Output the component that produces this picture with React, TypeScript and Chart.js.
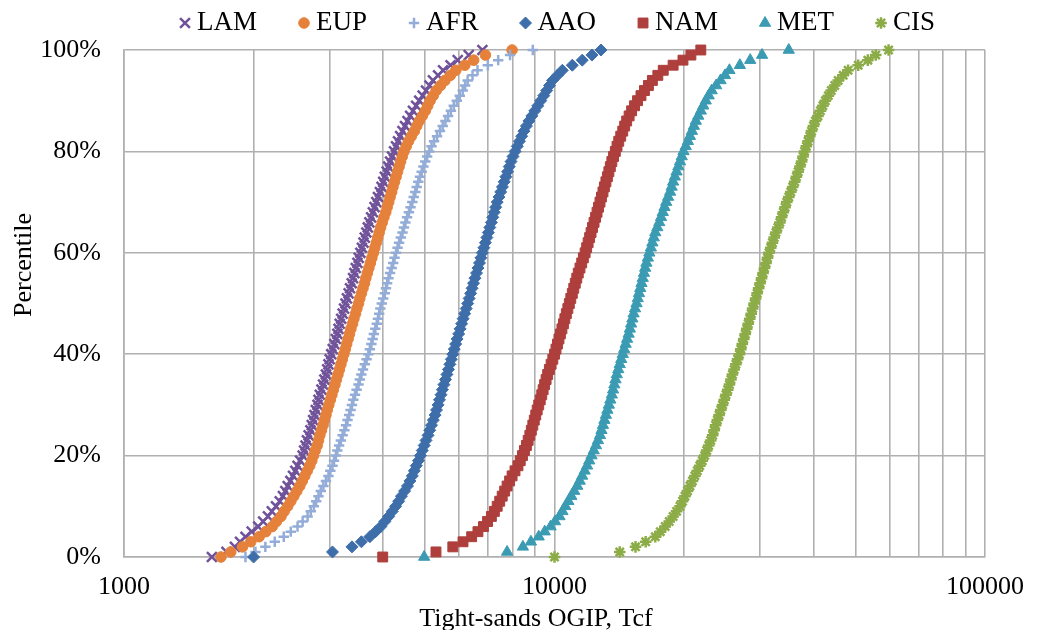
import React, { useEffect, useRef } from "react";
import { Chart, registerables } from "chart.js";
import { drawPoint } from "chart.js/helpers";

Chart.register(...registerables);

// Percentile levels (%) shared by all series
const PCT = [
  0, 1, 2, 3, 4, 5, 6, 7, 8, 9,
  10, 11, 12, 13, 14, 15, 16, 17, 18, 19,
  20, 21, 22, 23, 24, 25, 26, 27, 28, 29,
  30, 31, 32, 33, 34, 35, 36, 37, 38, 39,
  40, 41, 42, 43, 44, 45, 46, 47, 48, 49,
  50, 51, 52, 53, 54, 55, 56, 57, 58, 59,
  60, 61, 62, 63, 64, 65, 66, 67, 68, 69,
  70, 71, 72, 73, 74, 75, 76, 77, 78, 79,
  80, 81, 82, 83, 84, 85, 86, 87, 88, 89,
  90, 91, 92, 93, 94, 95, 96, 97, 98, 99, 100,
];

// Tight-sands OGIP (Tcf) at each percentile
const LAM = [
  1600, 1730, 1810, 1860, 1915, 1980, 2050, 2105, 2160, 2205,
  2255, 2300, 2340, 2370, 2400, 2435, 2470, 2500, 2530, 2565,
  2600, 2620, 2640, 2660, 2685, 2710, 2730, 2750, 2770, 2790,
  2815, 2830, 2850, 2875, 2900, 2920, 2945, 2965, 2985, 3005,
  3030, 3055, 3080, 3105, 3130, 3150, 3170, 3195, 3220, 3245,
  3270, 3295, 3325, 3350, 3380, 3405, 3430, 3455, 3485, 3510,
  3540, 3570, 3600, 3625, 3655, 3685, 3715, 3750, 3785, 3820,
  3855, 3890, 3930, 3965, 4000, 4035, 4075, 4110, 4150, 4195,
  4240, 4285, 4330, 4380, 4435, 4495, 4555, 4620, 4690, 4770,
  4850, 4940, 5030, 5125, 5220, 5365, 5510, 5735, 5960, 6320, 6800,
];
const EUP = [
  1680, 1770, 1885, 1970, 2060, 2135, 2210, 2260, 2315, 2355,
  2400, 2440, 2480, 2520, 2560, 2595, 2630, 2665, 2700, 2730,
  2755, 2780, 2810, 2830, 2850, 2875, 2900, 2920, 2945, 2965,
  2990, 3015, 3040, 3065, 3090, 3115, 3140, 3165, 3190, 3215,
  3240, 3265, 3290, 3315, 3340, 3365, 3395, 3420, 3450, 3475,
  3505, 3530, 3560, 3590, 3620, 3645, 3675, 3705, 3735, 3765,
  3795, 3825, 3855, 3885, 3915, 3945, 3980, 4015, 4055, 4085,
  4120, 4150, 4185, 4215, 4250, 4285, 4320, 4355, 4390, 4430,
  4470, 4525, 4580, 4650, 4725, 4785, 4850, 4930, 5010, 5075,
  5140, 5225, 5310, 5435, 5565, 5730, 5900, 6190, 6490, 6910, 7970,
];
const AFR = [
  1915, 2020, 2130, 2240, 2350, 2440, 2530, 2600, 2670, 2715,
  2760, 2795, 2830, 2865, 2905, 2945, 2985, 3015, 3050, 3075,
  3105, 3130, 3160, 3190, 3220, 3250, 3280, 3305, 3335, 3360,
  3385, 3410, 3440, 3470, 3505, 3530, 3560, 3590, 3625, 3660,
  3695, 3725, 3755, 3780, 3805, 3835, 3865, 3890, 3915, 3940,
  3970, 4000, 4035, 4060, 4085, 4115, 4150, 4185, 4220, 4250,
  4285, 4320, 4355, 4395, 4435, 4470, 4505, 4545, 4590, 4630,
  4675, 4710, 4750, 4785, 4825, 4870, 4915, 4960, 5010, 5060,
  5115, 5180, 5250, 5335, 5420, 5500, 5580, 5660, 5745, 5835,
  5930, 6025, 6120, 6200, 6285, 6450, 6625, 7000, 7400, 7885, 8905,
];
const AAO = [
  2000, 3050, 3385, 3560, 3725, 3840, 3950, 4035, 4120, 4200,
  4275, 4345, 4410, 4485, 4555, 4615, 4675, 4725, 4775, 4830,
  4880, 4930, 4980, 5030, 5085, 5130, 5180, 5230, 5280, 5320,
  5365, 5405, 5450, 5490, 5535, 5580, 5625, 5670, 5715, 5760,
  5805, 5850, 5895, 5940, 5990, 6035, 6085, 6135, 6185, 6235,
  6285, 6335, 6385, 6435, 6485, 6535, 6590, 6640, 6695, 6745,
  6800, 6855, 6910, 6965, 7020, 7075, 7135, 7190, 7245, 7300,
  7360, 7430, 7500, 7570, 7640, 7710, 7780, 7850, 7925, 8010,
  8100, 8195, 8290, 8390, 8490, 8605, 8720, 8860, 9000, 9145,
  9290, 9440, 9590, 9740, 9895, 10160, 10430, 11000, 11600, 12220, 12820,
];
const NAM = [
  3990, 5305, 5805, 6130, 6420, 6640, 6840, 6990, 7135, 7250,
  7360, 7460, 7560, 7660, 7760, 7865, 7970, 8095, 8225, 8325,
  8425, 8515, 8605, 8685, 8765, 8835, 8905, 8975, 9045, 9115,
  9190, 9265, 9340, 9410, 9485, 9560, 9640, 9730, 9820, 9910,
  10000, 10080, 10160, 10240, 10320, 10405, 10490, 10570, 10655, 10740,
  10825, 10910, 11000, 11085, 11175, 11265, 11355, 11460, 11565, 11670,
  11780, 11875, 11970, 12065, 12160, 12255, 12355, 12455, 12555, 12655,
  12755, 12855, 12960, 13060, 13165, 13270, 13375, 13480, 13590, 13715,
  13845, 13970, 14100, 14250, 14405, 14555, 14710, 14905, 15105, 15345,
  15590, 15880, 16180, 16525, 16880, 17380, 17890, 18860, 19880, 20740, 21870,
];
const MET = [
  4980, 7760, 8445, 8815, 9190, 9490, 9795, 10030, 10270, 10435,
  10600, 10770, 10940, 11115, 11295, 11445, 11595, 11750, 11905, 12045,
  12190, 12335, 12485, 12620, 12755, 12855, 12960, 13060, 13165, 13270,
  13375, 13480, 13590, 13680, 13770, 13860, 13955, 14065, 14175, 14290,
  14405, 14515, 14630, 14745, 14865, 14965, 15065, 15165, 15265, 15385,
  15510, 15610, 15715, 15820, 15925, 16030, 16135, 16240, 16350, 16480,
  16610, 16745, 16880, 17010, 17145, 17330, 17515, 17680, 17845, 18010,
  18175, 18365, 18560, 18710, 18860, 19035, 19210, 19390, 19570, 19750,
  19935, 20175, 20415, 20635, 20855, 21075, 21295, 21580, 21870, 22160,
  22455, 22815, 23180, 23740, 24305, 24895, 25490, 26950, 28485, 30350, 35010,
];
const CIS = [
  10000, 14175, 15425, 16285, 17145, 17610, 18080, 18470, 18860, 19215,
  19570, 19830, 20095, 20365, 20635, 20910, 21185, 21465, 21750, 22040,
  22335, 22570, 22810, 23055, 23300, 23485, 23675, 23895, 24115, 24340,
  24565, 24795, 25025, 25255, 25490, 25695, 25900, 26140, 26385, 26630,
  26875, 27090, 27305, 27520, 27740, 27960, 28185, 28410, 28635, 28860,
  29090, 29325, 29560, 29795, 30030, 30270, 30510, 30755, 31000, 31245,
  31495, 31790, 32085, 32385, 32685, 33030, 33380, 33690, 34005, 34320,
  34640, 35010, 35380, 35755, 36135, 36470, 36810, 37155, 37500, 37800,
  38100, 38455, 38810, 39170, 39535, 39955, 40380, 40920, 41465, 42015,
  42570, 43255, 43945, 44770, 45600, 46840, 48075, 50755, 53435, 55745, 59710,
];

const SERIES_NAMES = ["LAM", "EUP", "AFR", "AAO", "NAM", "MET", "CIS"];
const SERIES_VALUES = [LAM, EUP, AFR, AAO, NAM, MET, CIS];

// x-axis gridlines and labelled ticks
const X_GRID = [1000, 2000, 3000, 4000, 5000, 6000, 7000, 8000, 9000, 10000, 20000, 30000, 40000, 50000, 60000, 70000, 80000, 90000, 100000];
const X_LABELS = [1000, 10000, 100000];
const Y_TICKS_STEP = 20;

// styles
const FONT = '"Liberation Serif", "Times New Roman", serif';
const GRID = "#b0b0b0";
const STYLES = [
  { color: "#70529A", pointStyle: "crossRot", radius: 7, borderWidth: 2.5 },
  { color: "#E5813A", pointStyle: "circle", radius: 5.3, borderWidth: 1 },
  { color: "#93ADD8", pointStyle: "cross", radius: 5.2, borderWidth: 2.5 },
  { color: "#3E6EAA", pointStyle: "rectRot", radius: 6, borderWidth: 1 },
  { color: "#AE3F3C", pointStyle: "rect", radius: 7, borderWidth: 1 },
  { color: "#3A9BB3", pointStyle: "triangle", radius: 6.5, borderWidth: 1 },
  { color: "#8CAC47", pointStyle: "star", radius: 5.8, borderWidth: 2.5 },
];

const LEGEND = { startX: 185, y: 23, textGap: 12, itemGap: 47, fontSize: 27 };
const X_TITLE = { text: "Tight-sands OGIP, Tcf", x: 536, y: 626 };
const Y_TITLE = { text: "Percentile", x: 31, y: 265 };

const decorPlugin = {
  id: "decor",
  afterDraw(chart: any) {
    const ctx = chart.ctx as CanvasRenderingContext2D;
    ctx.save();
    // legend
    ctx.font = `${LEGEND.fontSize}px ${FONT}`;
    ctx.textBaseline = "middle";
    ctx.textAlign = "left";
    let x = LEGEND.startX;
    SERIES_NAMES.forEach((name, i) => {
      const st = STYLES[i];
      ctx.fillStyle = st.color;
      ctx.strokeStyle = st.color;
      ctx.lineWidth = st.borderWidth;
      drawPoint(ctx, { pointStyle: st.pointStyle as any, radius: st.radius, rotation: 0, borderWidth: st.borderWidth }, x, LEGEND.y);
      ctx.fillStyle = "#000";
      const tx = x + LEGEND.textGap;
      ctx.fillText(name, tx, LEGEND.y);
      x = tx + ctx.measureText(name).width + LEGEND.itemGap;
    });
    // axis titles
    ctx.font = `26px ${FONT}`;
    ctx.fillStyle = "#000";
    ctx.textAlign = "center";
    ctx.textBaseline = "alphabetic";
    ctx.fillText(X_TITLE.text, X_TITLE.x, X_TITLE.y);
    ctx.translate(Y_TITLE.x, Y_TITLE.y);
    ctx.rotate(-Math.PI / 2);
    ctx.fillText(Y_TITLE.text, 0, 0);
    ctx.restore();
  },
};

export default function App() {
  const canvasRef = useRef<HTMLCanvasElement | null>(null);

  useEffect(() => {
    if (!canvasRef.current) return;
    Chart.defaults.font.family = FONT;
    const datasets = SERIES_NAMES.map((name, i) => {
      const st = STYLES[i];
      return {
        label: name,
        data: PCT.map((p, k) => ({ x: SERIES_VALUES[i][k], y: p })),
        showLine: false,
        pointStyle: st.pointStyle as any,
        pointRadius: st.radius,
        pointBorderWidth: st.borderWidth,
        pointBackgroundColor: st.color,
        pointBorderColor: st.color,
        backgroundColor: st.color,
        borderColor: st.color,
        clip: false as any,
        order: SERIES_NAMES.length - i,
      };
    });

    const chart = new Chart(canvasRef.current, {
      type: "scatter",
      data: { datasets },
      options: {
        responsive: false,
        animation: false,
        devicePixelRatio: 1,
        layout: { padding: { left: 0, right: 43, top: 50, bottom: 0 } },
        plugins: { legend: { display: false }, tooltip: { enabled: false } },
        scales: {
          x: {
            type: "logarithmic",
            min: 1000,
            max: 100000,
            afterBuildTicks: (scale: any) => {
              scale.ticks = X_GRID.map((v) => ({ value: v }));
            },
            afterFit: (scale: any) => {
              scale.height = 73;
            },
            ticks: {
              autoSkip: false,
              maxRotation: 0,
              minRotation: 0,
              padding: 15,
              color: "#000",
              font: { family: FONT, size: 26 },
              callback: (v: any) => (X_LABELS.includes(Number(v)) ? String(v) : ""),
            },
            grid: { color: GRID, lineWidth: 1.6, drawTicks: false },
            border: { color: GRID, width: 1.6 },
          },
          y: {
            min: 0,
            max: 100,
            afterFit: (scale: any) => {
              scale.width = 124;
            },
            ticks: {
              stepSize: Y_TICKS_STEP,
              padding: 23,
              color: "#000",
              font: { family: FONT, size: 26 },
              callback: (v: any) => `${v}%`,
            },
            grid: { color: GRID, lineWidth: 1.6, drawTicks: false },
            border: { color: GRID, width: 1.6 },
          },
        },
      },
      plugins: [decorPlugin],
    });
    return () => chart.destroy();
  }, []);

  return (
    <div style={{ position: "fixed", left: 0, top: 0, width: 1039, height: 630, overflow: "hidden", background: "#fff" }}>
      <canvas ref={canvasRef} width={1039} height={630} style={{ display: "block" }} />
    </div>
  );
}
